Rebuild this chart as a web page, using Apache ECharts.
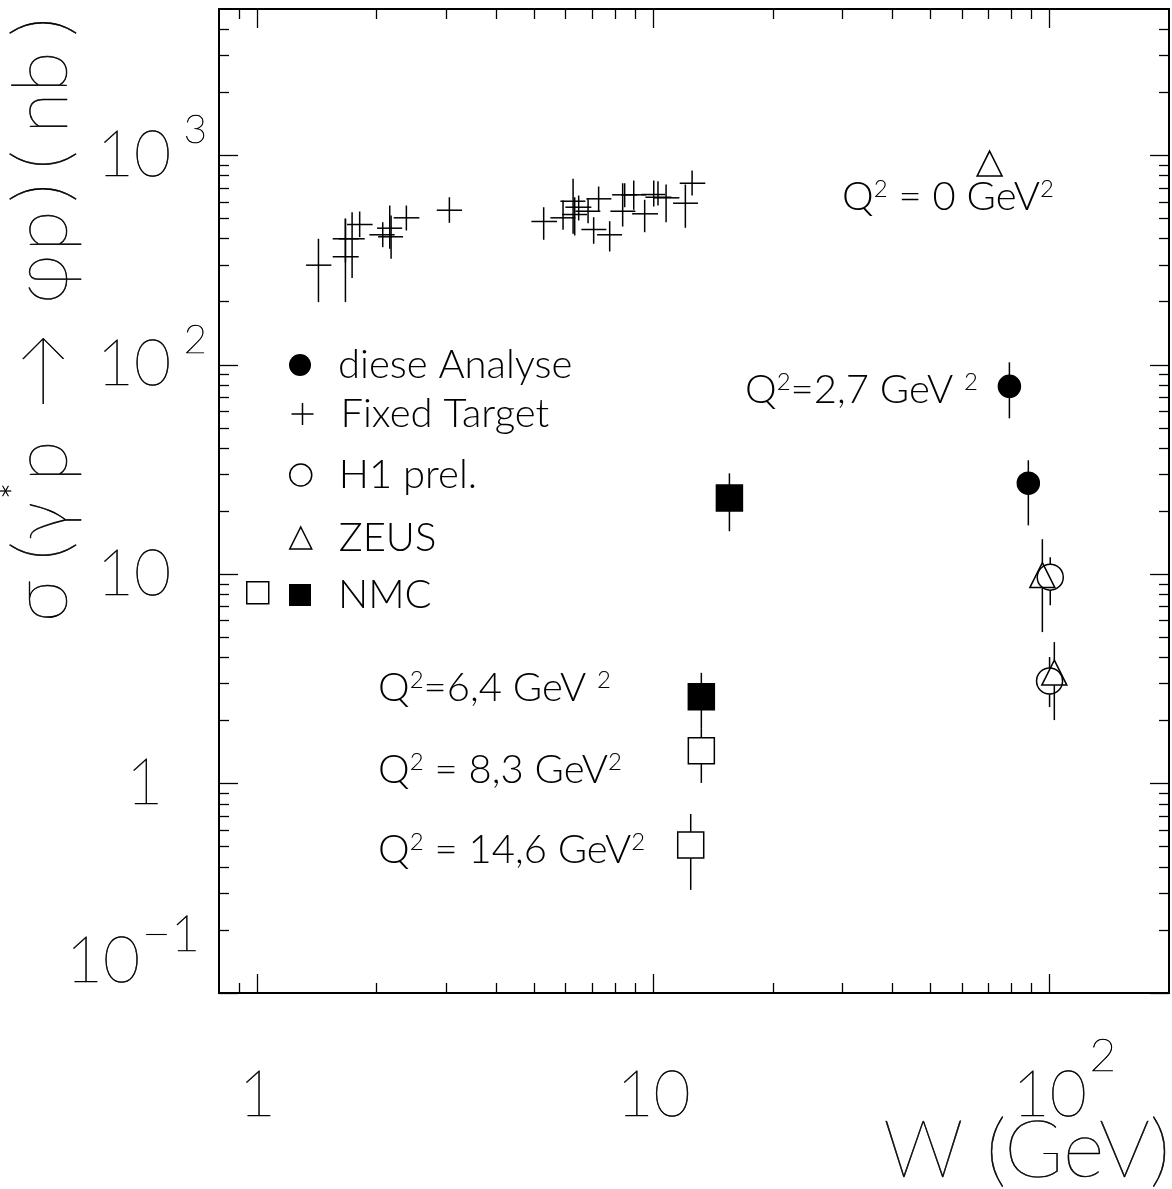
<!DOCTYPE html>
<html><head><meta charset="utf-8">
<script src="https://cdn.jsdelivr.net/npm/echarts@6/dist/echarts.min.js"></script>
<style>html,body{margin:0;padding:0;background:#fff}#c{width:1172px;height:1189px}</style>
</head><body><div id="c"></div>
<script>
// ---------------- DATA ----------------
// diese Analyse (Q^2 = 2,7 GeV^2)
const dieseW     = [79.1, 88.3];
const dieseSigma = [78.9, 27.2];
const dieseLo    = [55.5, 17.1];
const dieseHi    = [102.7, 35.0];

// H1 prel.
const h1W     = [100.3, 99.9];
const h1Sigma = [9.68, 3.09];
const h1Lo    = [7.11, 2.32];
const h1Hi    = [12.05, 4.02];

// ZEUS
const zeusW     = [70.5, 95.8, 102.7];
const zeusSigma = [914, 9.9, 3.39];
const zeusLo    = [914, 5.29, 2.01];
const zeusHi    = [914, 14.69, 4.74];

// NMC (filled squares)
const nmcW     = [15.54, 13.2];
const nmcSigma = [23.1, 2.60];
const nmcLo    = [16.04, 1.84];
const nmcHi    = [30.3, 3.38];

// NMC (open squares)
const nmcOpenW     = [13.2, 12.41];
const nmcOpenSigma = [1.436, 0.5095];
const nmcOpenLo    = [1.007, 0.3108];
const nmcOpenHi    = [1.84, 0.716];

// Fixed Target (W with bin edges, sigma with error range)
const ftW     = [1.426, 1.668, 1.668, 1.734, 1.812, 2.072, 2.158, 2.175, 2.377, 3.052,
                 5.280, 5.909, 6.264, 6.471, 6.834, 6.323, 7.267, 7.060, 7.749, 8.356,
                 8.911, 8.454, 9.496, 10.01, 10.26, 10.755, 12.03, 12.51];
const ftWLo   = [1.327, 1.549, 1.549, 1.604, 1.684, 1.917, 2.005, 2.017, 2.208, 2.836,
                 4.916, 5.490, 5.818, 5.989, 6.348, 5.875, 6.766, 6.573, 7.200, 7.780,
                 8.293, 7.858, 8.826, 9.316, 9.535, 10.01, 11.20, 11.64];
const ftWHi   = [1.537, 1.802, 1.802, 1.866, 1.954, 2.221, 2.319, 2.332, 2.564, 3.286,
                 5.706, 6.348, 6.727, 6.966, 7.339, 6.794, 7.826, 7.601, 8.327, 8.996,
                 9.574, 9.100, 10.26, 10.71, 11.09, 11.62, 12.95, 13.51];
const ftSigma = [299, 328, 399.6, 399.6, 467.6, 417.6, 449.0, 408.5, 503.3, 547.1,
                 483.4, 503.3, 604.0, 565.5, 541.1, 521.9, 620.2, 442.6, 417.6, 541.1,
                 648.0, 648.0, 525.9, 650.2, 631.0, 627.0, 590.9, 736.1];
const ftLo    = [199.2, 199.2, 307.9, 259.3, 406.7, 364.4, 358.0, 320.8, 437.8, 476.4,
                 395.3, 441.1, 422.2, 488.7, 474.3, 414.4, 541.1, 378.3, 347.5, 457.4,
                 549.5, 565.5, 429.6, 569.8, 576.0, 479.6, 451.0, 643.0];
const ftHi    = [399.6, 497.7, 499.4, 535.2, 539.4, 479.6, 576.0, 516.2, 576.0, 631.0,
                 565.5, 608.7, 772.6, 643.0, 620.2, 631.0, 709.9, 506.6, 484.9, 736.1,
                 758.3, 736.1, 613.5, 758.3, 752.4, 725.6, 725.6, 846.3];

// Axes and ticks
const X_MIN = 0.8, X_MAX = 200;
const Y_MIN = 0.1, Y_MAX = 5000;
const xMajorTicks = [1, 10, 100];
const xMinorTicks = [0.9, 2, 3, 4, 5, 6, 7, 8, 9, 20, 30, 40, 50, 60, 70, 80, 90];
const yMajorTicks = [0.1, 1, 10, 100, 1000];
const yMinorTicks = [0.2, 0.3, 0.4, 0.5, 0.6, 0.7, 0.8, 0.9, 2, 3, 4, 5, 6, 7, 8, 9,
                     20, 30, 40, 50, 60, 70, 80, 90, 200, 300, 400, 500, 600, 700, 800, 900,
                     2000, 3000, 4000];
const xLabelTicks = [1, 10, 100];
const yLabelTicks = [1, 10, 100, 1000];
const yLowLabelTicks = [0.1];

// Axis titles
const xTitle = 'W (GeV)';
// y title glyphs: [glyph, distance of glyph centre from the start of the title, superscript?]
const yTitleGlyphs = [['\u03c3', 24], ['(', 74], ['\u03b3', 104], ['*', 134, 1], ['p', 164],
                      ['\u2192', 254], ['\u03c6', 346], ['p', 394], [')', 432], ['(', 465],
                      ['n', 512], ['b', 553], [')', 598]];
const Y_TITLE_LEN = 620;

// ---------------- STYLE ----------------
const FONT = 'Lato';
const FW_BIG = 200;
const FW_SMALL = 300;
const LINE = '#000';
const BIG = { fontFamily: FONT, fontWeight: FW_BIG, color: '#000', textBorderColor: '#000', textBorderWidth: 0.6 };
const BIG_ZR = { fontFamily: FONT, fontWeight: FW_BIG, fill: '#000', stroke: '#000', lineWidth: 0.6 };

function rows4(a, b, c, d) { return a.map((v, i) => [v, b[i], c[i], d[i]]); }

function makeRender(kind, size) {
  return function (params, api) {
    const w = api.value(0), s = api.value(1), lo = api.value(2), hi = api.value(3);
    const c = api.coord([w, s]);
    const pt = api.coord([w, hi]);
    const pb = api.coord([w, lo]);
    const st = { stroke: LINE, lineWidth: 1.5, fill: 'none' };
    const ch = [];
    if (kind === 'cross') {
      const l = api.coord([api.value(4), s]);
      const r = api.coord([api.value(5), s]);
      ch.push({ type: 'line', shape: { x1: l[0], y1: c[1], x2: r[0], y2: c[1] }, style: st });
      ch.push({ type: 'line', shape: { x1: c[0], y1: pt[1], x2: c[0], y2: pb[1] }, style: st });
      return { type: 'group', children: ch };
    }
    const h = size / 2;
    if (c[1] - h > pt[1] + 0.5)
      ch.push({ type: 'line', shape: { x1: c[0], y1: pt[1], x2: c[0], y2: c[1] - h }, style: st });
    if (pb[1] > c[1] + h + 0.5)
      ch.push({ type: 'line', shape: { x1: c[0], y1: c[1] + h, x2: c[0], y2: pb[1] }, style: st });
    const filled = kind.indexOf('filled') >= 0;
    const ms = { stroke: LINE, lineWidth: 1.5, fill: filled ? '#000' : 'none' };
    if (kind.indexOf('circle') >= 0) {
      ch.push({ type: 'circle', shape: { cx: c[0], cy: c[1], r: h }, style: ms });
    } else if (kind.indexOf('rect') >= 0) {
      ch.push({ type: 'rect', shape: { x: c[0] - h, y: c[1] - h, width: size, height: size }, style: ms });
    } else if (kind.indexOf('triangle') >= 0) {
      ch.push({ type: 'polygon', shape: { points: [[c[0], c[1] - h], [c[0] + h, c[1] + h], [c[0] - h, c[1] + h]] }, style: ms });
    }
    return { type: 'group', children: ch };
  };
}

function customSeries(name, data, kind, size) {
  return {
    type: 'custom', name: name, xAxisIndex: 0, yAxisIndex: 0,
    encode: { x: 0, y: 1 }, data: data, renderItem: makeRender(kind, size),
    silent: true, z: 5
  };
}

function xAx(pos, ticks, len, label) {
  return {
    type: 'log', logBase: 10, min: X_MIN, max: X_MAX, position: pos, gridIndex: 0,
    axisLine: { show: false }, splitLine: { show: false },
    minorTick: { show: false }, minorSplitLine: { show: false },
    axisTick: { show: true, inside: true, length: len, customValues: ticks,
                lineStyle: { color: LINE, width: 1.3 } },
    axisLabel: label || { show: false }
  };
}
function yAx(pos, ticks, len, label) {
  return {
    type: 'log', logBase: 10, min: Y_MIN, max: Y_MAX, position: pos, gridIndex: 0,
    axisLine: { show: false }, splitLine: { show: false },
    minorTick: { show: false }, minorSplitLine: { show: false },
    axisTick: { show: ticks.length > 0, inside: true, length: len, customValues: ticks,
                lineStyle: { color: LINE, width: 1.3 } },
    axisLabel: label || { show: false }
  };
}

const xLabel = {
  show: true, customValues: xLabelTicks, margin: 40,
  formatter: function (v) {
    const e = Math.round(Math.log10(v));
    if (e === 0) return '{b|1}';
    if (e === 1) return '{b|10}';
    return '{sp|\u00a0}{b|10}{s|' + e + '}';
  },
  rich: {
    b: Object.assign({ fontSize: 64, lineHeight: 124 }, BIG),
    s: Object.assign({ fontSize: 46, lineHeight: 30, verticalAlign: 'top', width: 32 }, BIG),
    sp: { fontSize: 10, width: 32, lineHeight: 30 }
  }
};

const yLabel = {
  show: true, customValues: yLabelTicks, margin: 12,
  formatter: function (v) {
    const e = Math.round(Math.log10(v));
    if (e === 0) return '{b|1}{q|\u00a0}';
    if (e === 1) return '{b|10}{p|\u00a0}';
    return '{b|10}{s|' + e + '}';
  },
  rich: {
    b: Object.assign({ fontSize: 64, lineHeight: 90 }, BIG),
    s: Object.assign({ fontSize: 40, lineHeight: 20, verticalAlign: 'top', width: 36, align: 'right' }, BIG),
    p: { fontSize: 10, width: 36, align: 'right' },
    q: { fontSize: 10, width: 44, align: 'right' }
  }
};

const yLowLabel = {
  show: true, customValues: yLowLabelTicks, margin: 19, verticalAlign: 'bottom',
  formatter: function (v) {
    const e = Math.round(Math.log10(v));
    return '{b|10}{m|\u2212' + Math.abs(e) + '}';
  },
  rich: {
    b: Object.assign({ fontSize: 64, lineHeight: 36, verticalAlign: 'bottom', align: 'right' }, BIG),
    m: Object.assign({ fontSize: 50, lineHeight: 116, width: 60, align: 'right' }, BIG)
  }
};

// y title as rich text with per-glyph tokens (positions along the rotated line)
function buildYTitle() {
  const rich = {};
  let txt = '';
  let pos = 0;
  yTitleGlyphs.forEach(function (g, i) {
    const half = 14;
    const start = g[1] - half;
    const gap = start - pos;
    if (gap > 0.5) {
      rich['sp' + i] = { width: gap, fontSize: 10, lineHeight: 90 };
      txt += '{sp' + i + '|\u00a0}';
    }
    rich['g' + i] = Object.assign({ width: half * 2, fontSize: g[2] ? 40 : 76,
                                    lineHeight: g[2] ? 30 : 90,
                                    verticalAlign: g[2] ? 'top' : 'middle' }, BIG_ZR);
    txt += '{g' + i + '|' + g[0] + '}';
    pos = g[1] + half;
  });
  if (Y_TITLE_LEN - pos > 0.5) {
    rich.end = { width: Y_TITLE_LEN - pos, fontSize: 10, lineHeight: 90 };
    txt += '{end|\u00a0}';
  }
  return { text: txt, rich: rich };
}
const yTitle = buildYTitle();

const legendBase = {
  orient: 'horizontal', padding: 0, itemWidth: 22, itemHeight: 22, itemGap: 0,
  selectedMode: false, left: 289,
  textStyle: { fontSize: 40, fontFamily: FONT, fontWeight: FW_SMALL, color: '#000', lineHeight: 22, padding: [0, 0, 0, 22] }
};
const openStyle = { color: '#fff', borderColor: '#000', borderWidth: 1.5 };

const supRich = {
  t: { fontSize: 40, fontFamily: FONT, fontWeight: FW_SMALL, fill: '#000', lineHeight: 40 },
  s: { fontSize: 24, fontFamily: FONT, fontWeight: FW_SMALL, fill: '#000', lineHeight: 24, verticalAlign: 'top' }
};
function annot(x, y, txt) {
  return { type: 'text', x: x, y: y, z: 10,
           style: { text: txt, rich: supRich, align: 'left', verticalAlign: 'middle' } };
}

const chart = echarts.init(document.getElementById('c'), null, { renderer: 'canvas' });
chart.setOption({
  backgroundColor: '#fff',
  animation: false,
  grid: { left: 219, right: 3, top: 9, bottom: 196, show: true, borderColor: '#000', borderWidth: 2, backgroundColor: 'transparent' },
  xAxis: [
    xAx('bottom', xMajorTicks, 19, xLabel),
    xAx('bottom', xMinorTicks, 10),
    xAx('top', xMajorTicks, 19),
    xAx('top', xMinorTicks, 10)
  ],
  yAxis: [
    yAx('left', yMajorTicks, 19, yLabel),
    yAx('left', yMinorTicks, 10),
    yAx('right', yMajorTicks, 19),
    yAx('right', yMinorTicks, 10),
    yAx('left', [], 0, yLowLabel)
  ],
  legend: [
    Object.assign({}, legendBase, { top: 345, data: [{ name: 'diese Analyse', icon: 'circle', itemStyle: { color: '#000', borderWidth: 0 } }] }),
    Object.assign({}, legendBase, { top: 394, data: [{ name: 'Fixed Target', icon: 'path://M0,11L22,11M11,0L11,22', itemStyle: { color: 'none', borderColor: '#000', borderWidth: 1.5 } }] }),
    Object.assign({}, legendBase, { top: 455, data: [{ name: 'H1 prel.', icon: 'circle', itemStyle: openStyle }] }),
    Object.assign({}, legendBase, { top: 518, data: [{ name: 'ZEUS', icon: 'triangle', itemStyle: openStyle }] }),
    Object.assign({}, legendBase, { top: 575, data: [{ name: 'NMC', icon: 'rect', itemStyle: { color: '#000', borderWidth: 0 } }] }),
    Object.assign({}, legendBase, { left: 246, top: 581, formatter: function () { return ''; },
      data: [{ name: 'NMC (offen)', icon: 'rect', itemStyle: openStyle }] })
  ],
  graphic: [
    annot(842, 197, '{t|Q}{s|2}{t| = 0 GeV}{s|2}'),
    annot(745, 390, '{t|Q}{s|2}{t|=2,7 GeV }{s|2}'),
    annot(378, 688, '{t|Q}{s|2}{t|=6,4 GeV }{s|2}'),
    annot(378, 770, '{t|Q}{s|2}{t| = 8,3 GeV}{s|2}'),
    annot(378, 850, '{t|Q}{s|2}{t| = 14,6 GeV}{s|2}'),
    { type: 'text', x: 1170, y: 1151, z: 10,
      style: { text: xTitle, font: FW_BIG + ' 80px ' + FONT, fill: '#000', stroke: '#000', lineWidth: 0.6,
               align: 'right', verticalAlign: 'middle' } },
    { type: 'text', x: 42, y: 625 - Y_TITLE_LEN / 2, rotation: Math.PI / 2, z: 10,
      style: { text: yTitle.text, rich: yTitle.rich, font: FW_BIG + ' 76px ' + FONT, fill: '#000',
               align: 'center', verticalAlign: 'middle' } }
  ],
  series: [
    customSeries('Fixed Target', ftW.map((w, i) => [w, ftSigma[i], ftLo[i], ftHi[i], ftWLo[i], ftWHi[i]]), 'cross', 0),
    customSeries('diese Analyse', rows4(dieseW, dieseSigma, dieseLo, dieseHi), 'filled-circle', 22),
    customSeries('H1 prel.', rows4(h1W, h1Sigma, h1Lo, h1Hi), 'open-circle', 26),
    customSeries('ZEUS', rows4(zeusW, zeusSigma, zeusLo, zeusHi), 'open-triangle', 25),
    customSeries('NMC', rows4(nmcW, nmcSigma, nmcLo, nmcHi), 'filled-rect', 26),
    customSeries('NMC (offen)', rows4(nmcOpenW, nmcOpenSigma, nmcOpenLo, nmcOpenHi), 'open-rect', 26)
  ]
});
</script>
</body></html>
